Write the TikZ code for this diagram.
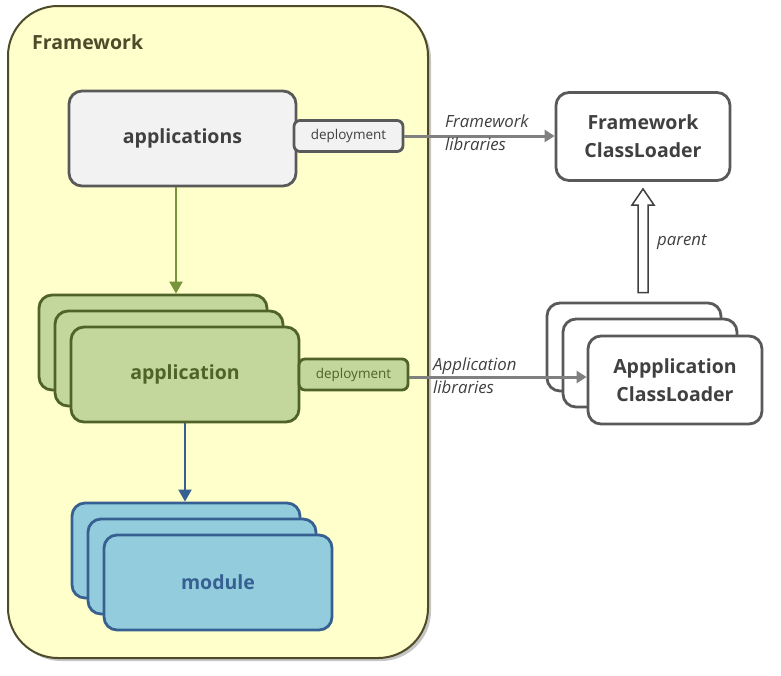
\documentclass[tikz,border=0pt]{standalone}
\usepackage{fontspec}
\setmainfont{Open Sans}
\usetikzlibrary{shadows,arrows.meta}

\definecolor{fwfill}{HTML}{FFFFCC}
\definecolor{fwline}{HTML}{4F4A2A}
\definecolor{greyfill}{HTML}{F2F2F2}
\definecolor{greyline}{HTML}{595959}
\definecolor{greytext}{HTML}{404040}
\definecolor{appfill}{HTML}{C3D69B}
\definecolor{appline}{HTML}{4F6228}
\definecolor{apparrow}{HTML}{77933C}
\definecolor{modfill}{HTML}{93CDDD}
\definecolor{modline}{HTML}{376092}
\definecolor{libarrow}{HTML}{808080}

\tikzset{
  bigfont/.style={font=\bfseries\fontsize{19.5}{28}\selectfont},
  box/.style={draw, rounded corners=13pt, line width=2.8pt, align=center,
    minimum width=228pt, minimum height=95pt, bigfont},
  greybox/.style={box, fill=greyfill, draw=greyline, text=greytext},
  appbox/.style={box, fill=appfill, draw=appline, text=appline},
  modbox/.style={box, fill=modfill, draw=modline, text=modline},
  loaderbox/.style={box, fill=white, draw=greyline, text=greytext,
    minimum width=174pt, minimum height=88pt},
  depbox/.style={draw, rounded corners=6pt, line width=2.8pt,
    minimum width=109pt, minimum height=31pt, inner sep=0pt,
    font=\fontsize{13.5}{15}\selectfont},
  liblabel/.style={anchor=west, inner sep=0pt, align=left,
    font=\itshape\fontsize{16.8}{23}\selectfont, text=greytext},
  libline/.style={draw=libarrow, line width=3pt,
    -{Triangle[length=10pt,width=12pt]}},
}

\begin{document}
\begin{tikzpicture}[x=1pt,y=-1pt]
  \useasboundingbox (0,0) rectangle (781,675);

  % framework container
  \node[draw=fwline, fill=fwfill, line width=2pt, rounded corners=50pt,
    minimum width=420pt, minimum height=652pt,
    drop shadow={shadow xshift=3pt, shadow yshift=-3pt, fill=black!45}]
    (fw) at (218,332) {};
  \node[anchor=west, inner sep=0pt, bigfont, text=fwline] (fwtitle) at (32,42) {Framework};

  % applications
  \node[greybox, minimum width=227pt] (apps) at (182.5,138.5) {applications};
  \node[depbox, fill=greyfill, draw=greyline, text=greytext] (dep1) at (348.5,136) {deployment};

  % application stack
  \node[appbox] (app1) at (153,342.5) {};
  \node[appbox] (app2) at (169,358.5) {};
  \node[appbox] (app3) at (185,374.5) {application};
  \node[depbox, fill=appfill, draw=appline, text=appline] (dep2) at (353.5,374.5) {deployment};

  % module stack
  \node[modbox] (mod1) at (186,550.5) {};
  \node[modbox] (mod2) at (202,566.5) {};
  \node[modbox] (mod3) at (218,582.5) {module};

  % class loaders
  \node[loaderbox] (fwcl) at (643,136.5) {Framework\\ClassLoader};
  \node[loaderbox] (acl1) at (634,347) {};
  \node[loaderbox] (acl2) at (650,363) {};
  \node[loaderbox] (acl3) at (675,380) {Appplication\\ClassLoader};

  % arrows inside framework
  \draw[draw=apparrow, line width=2pt, -{Triangle[length=12pt,width=13pt]}]
    ([xshift=-6.5pt]apps.south) -- ([xshift=-6.5pt]apps.south |- app1.north);
  \draw[draw=modline, line width=2pt, -{Triangle[length=12pt,width=13pt]}]
    (app3.south) -- (app3.south |- mod1.north);

  % libraries
  \draw[libline] (dep1.east) -- (dep1.east -| fwcl.west);
  \node[liblabel] (fwlib) at (445,132.5) {Framework\\libraries};
  \draw[libline] ([yshift=-2.5pt]dep2.east) -- ([yshift=-2.5pt]dep2.east -| acl3.west);
  \node[liblabel] (applib) at (433,376) {Application\\libraries};

  % parent
  \coordinate (ptip) at ([yshift=-7pt]fwcl.south);
  \coordinate (pbase) at ([yshift=9pt]ptip |- acl1.north);
  \draw[draw=greytext, fill=white, line width=1.5pt]
    ([xshift=-5pt]pbase) -- ([xshift=-5pt]pbase |- 0,205) -- ([xshift=-11pt]pbase |- 0,205)
    -- (ptip) -- ([xshift=11pt]pbase |- 0,205) -- ([xshift=5pt]pbase |- 0,205)
    -- ([xshift=5pt]pbase) -- cycle;
  \node[liblabel] (parentlbl) at (657,242) {parent};
\end{tikzpicture}
\end{document}
